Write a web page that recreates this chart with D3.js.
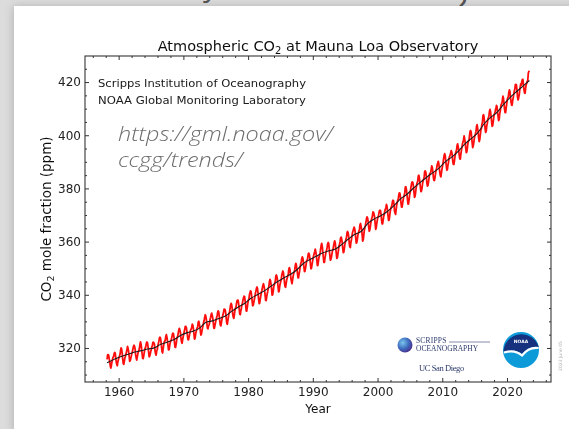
<!DOCTYPE html>
<html>
<head>
<meta charset="utf-8">
<script src="https://cdn.jsdelivr.net/npm/d3@7"></script>
<style>
  html, body { margin: 0; padding: 0; background: #dcdcdc; }
  svg { display: block; }
</style>
</head>
<body>
<svg id="chart" width="569" height="429"></svg>
<script>
// Monthly mean CO2 at Mauna Loa (ppm), one row per year, Jan..Dec
const firstYear = 1958;
const monthlyPpm = [
  [null, null, 315.70, 317.45, 317.51, 317.24, 315.86, 314.93, 313.20, 312.43, 313.33, 314.67],
  [315.58, 316.49, 316.65, 317.72, 318.29, 318.15, 316.54, 314.80, 313.84, 313.33, 314.81, 315.58],
  [316.43, 316.98, 317.58, 319.03, 320.04, 319.59, 318.18, 315.90, 314.17, 313.83, 315.00, 316.19],
  [316.90, 317.70, 318.54, 319.48, 320.58, 319.77, 318.57, 316.79, 314.99, 315.31, 316.10, 317.01],
  [317.94, 318.55, 319.68, 320.57, 321.02, 320.62, 319.61, 317.40, 316.25, 315.42, 316.69, 317.70],
  [318.74, 319.07, 319.86, 321.38, 322.25, 321.48, 319.74, 317.77, 316.21, 315.99, 317.07, 318.35],
  [319.57, 320.01, 320.74, 321.84, 322.26, 321.89, 320.44, 318.69, 316.70, 316.87, 317.68, 318.71],
  [319.44, 320.44, 320.89, 322.14, 322.17, 321.87, 321.21, 318.87, 317.81, 317.30, 318.87, 319.42],
  [320.62, 321.60, 322.39, 323.70, 324.08, 323.75, 322.38, 320.36, 318.64, 318.10, 319.78, 321.03],
  [322.33, 322.50, 323.04, 324.42, 325.00, 324.09, 322.54, 320.92, 319.25, 319.39, 320.73, 321.96],
  [322.57, 323.15, 323.89, 325.02, 325.57, 325.36, 324.14, 322.11, 320.33, 320.25, 321.32, 322.89],
  [324.00, 324.42, 325.63, 326.66, 327.38, 326.71, 325.88, 323.66, 322.38, 321.78, 322.85, 324.12],
  [325.06, 325.98, 326.93, 328.13, 328.08, 327.67, 326.34, 324.69, 323.10, 323.06, 324.01, 325.13],
  [326.17, 326.68, 327.17, 327.79, 328.93, 328.57, 327.36, 325.43, 323.36, 323.56, 324.80, 326.01],
  [326.77, 327.63, 327.75, 329.72, 330.07, 329.09, 328.04, 326.32, 324.84, 325.20, 326.50, 327.55],
  [328.55, 329.56, 330.30, 331.50, 332.48, 332.07, 330.87, 329.31, 327.51, 327.18, 328.16, 328.64],
  [329.35, 330.71, 331.48, 332.65, 333.09, 332.25, 331.18, 329.40, 327.43, 327.37, 328.46, 329.57],
  [330.40, 331.40, 332.04, 333.31, 333.97, 333.60, 331.90, 330.06, 328.56, 328.34, 329.49, 330.76],
  [331.75, 332.56, 333.50, 334.58, 334.57, 334.34, 333.05, 330.94, 329.30, 328.94, 330.31, 331.68],
  [332.93, 333.42, 334.70, 336.07, 336.75, 336.27, 334.92, 332.75, 331.59, 331.16, 332.40, 333.85],
  [334.97, 335.39, 336.64, 337.76, 338.01, 337.89, 336.54, 334.68, 332.76, 332.55, 333.92, 334.95],
  [336.23, 336.76, 337.96, 338.89, 339.47, 339.29, 337.73, 336.09, 333.92, 333.86, 335.29, 336.73],
  [338.01, 338.36, 340.07, 340.77, 341.47, 341.17, 339.56, 337.60, 335.88, 336.02, 337.10, 338.21],
  [339.24, 340.48, 341.38, 342.51, 342.91, 342.25, 340.49, 338.43, 336.69, 336.86, 338.36, 339.61],
  [340.75, 341.61, 342.70, 343.56, 344.13, 343.35, 342.06, 339.82, 337.97, 337.86, 339.26, 340.49],
  [341.37, 342.52, 343.10, 344.94, 345.75, 345.32, 343.99, 342.39, 339.86, 339.99, 341.16, 342.99],
  [343.70, 344.51, 345.28, 347.08, 347.43, 346.79, 345.40, 343.28, 341.07, 341.35, 342.98, 344.22],
  [344.97, 346.00, 347.43, 348.35, 348.93, 348.25, 346.56, 344.67, 343.09, 342.80, 344.24, 345.56],
  [346.29, 346.96, 347.86, 349.55, 350.21, 349.54, 347.94, 345.91, 344.86, 344.17, 345.66, 346.90],
  [348.02, 348.47, 349.42, 350.99, 351.84, 351.25, 349.52, 348.10, 346.44, 346.36, 347.81, 348.96],
  [350.43, 351.72, 352.22, 353.59, 354.22, 353.79, 352.39, 350.44, 348.72, 348.88, 350.07, 351.34],
  [352.76, 353.07, 353.68, 355.42, 355.67, 355.12, 353.90, 351.67, 349.80, 349.99, 351.30, 352.53],
  [353.66, 354.70, 355.39, 356.20, 357.16, 356.22, 354.82, 352.91, 350.96, 351.18, 352.83, 354.21],
  [354.72, 355.75, 357.16, 358.60, 359.34, 358.24, 356.17, 354.03, 352.16, 352.21, 353.75, 354.99],
  [355.98, 356.72, 357.81, 359.15, 359.66, 359.25, 357.02, 355.00, 353.01, 353.31, 354.16, 355.40],
  [356.70, 357.17, 358.38, 359.46, 360.28, 359.60, 357.57, 355.52, 353.69, 353.99, 355.34, 356.80],
  [358.37, 358.91, 359.97, 361.26, 361.69, 360.94, 359.55, 357.49, 355.84, 356.00, 357.58, 359.04],
  [359.96, 361.00, 361.64, 363.45, 363.79, 363.26, 361.90, 359.46, 358.06, 357.75, 359.56, 360.70],
  [362.05, 363.25, 364.03, 364.72, 365.41, 364.97, 363.65, 361.49, 359.46, 359.60, 360.76, 362.33],
  [363.18, 364.00, 364.57, 366.35, 366.79, 365.62, 364.47, 362.51, 360.19, 360.77, 362.43, 364.28],
  [365.32, 366.15, 367.31, 368.61, 369.30, 368.87, 367.64, 365.77, 363.90, 364.23, 365.46, 366.97],
  [368.15, 368.87, 369.59, 371.14, 371.00, 370.35, 369.27, 366.94, 364.63, 365.12, 366.67, 368.01],
  [369.14, 369.46, 370.52, 371.66, 371.82, 371.70, 370.12, 368.12, 366.62, 366.73, 368.29, 369.53],
  [370.28, 371.50, 372.12, 372.87, 374.02, 373.30, 371.62, 369.55, 367.96, 368.09, 369.68, 371.24],
  [372.43, 373.09, 373.52, 374.86, 375.55, 375.41, 374.02, 371.49, 370.71, 370.25, 372.08, 373.78],
  [374.68, 375.62, 376.11, 377.65, 378.35, 378.13, 376.62, 374.50, 372.99, 373.00, 374.35, 375.70],
  [376.79, 377.37, 378.41, 380.52, 380.63, 379.57, 377.79, 375.86, 374.06, 374.24, 375.86, 377.48],
  [378.47, 379.76, 381.14, 382.20, 382.47, 382.20, 380.78, 378.73, 376.66, 376.98, 378.29, 380.07],
  [381.36, 382.19, 382.65, 384.65, 384.94, 384.01, 382.15, 380.33, 378.81, 379.06, 380.17, 381.85],
  [382.90, 383.55, 384.42, 386.44, 386.57, 386.05, 384.49, 382.00, 380.90, 381.14, 382.38, 383.94],
  [385.44, 385.73, 385.97, 387.16, 388.50, 387.88, 386.38, 384.15, 383.07, 382.98, 384.11, 385.54],
  [386.92, 387.41, 388.77, 389.46, 390.18, 389.43, 387.74, 385.91, 384.77, 384.38, 385.99, 387.26],
  [388.45, 389.82, 391.08, 392.46, 393.05, 392.29, 390.24, 388.55, 386.83, 387.18, 388.68, 389.78],
  [391.33, 391.86, 392.60, 393.25, 394.19, 393.74, 392.51, 390.13, 389.08, 389.00, 390.28, 391.86],
  [393.12, 393.86, 394.40, 396.18, 396.74, 395.71, 394.36, 392.39, 391.11, 391.05, 392.98, 394.34],
  [395.55, 396.80, 397.43, 398.41, 399.78, 398.60, 397.32, 395.20, 393.45, 393.70, 395.16, 396.84],
  [397.85, 398.01, 399.77, 401.38, 401.78, 401.25, 399.10, 397.03, 395.38, 396.03, 397.28, 398.91],
  [399.98, 400.28, 401.54, 403.28, 403.96, 402.80, 401.31, 398.93, 397.63, 398.29, 400.16, 401.85],
  [402.56, 404.12, 404.87, 407.45, 407.72, 406.83, 404.41, 402.27, 401.05, 401.59, 403.55, 404.45],
  [406.17, 406.46, 407.22, 409.04, 409.69, 408.88, 407.12, 405.13, 403.37, 403.63, 405.12, 406.81],
  [407.96, 408.32, 409.41, 410.24, 411.24, 410.79, 408.71, 406.99, 405.51, 405.95, 408.02, 409.07],
  [410.83, 411.75, 411.97, 413.32, 414.66, 413.92, 411.77, 409.95, 408.54, 408.53, 410.27, 411.76],
  [413.40, 414.11, 414.51, 416.21, 417.07, 416.39, 414.38, 412.55, 411.29, 411.28, 412.89, 414.02],
  [415.24, 416.45, 417.30, 419.03, 419.13, 418.94, 416.96, 414.47, 413.30, 413.93, 415.01, 416.71],
  [418.19, 419.28, 418.81, 420.23, 420.99, 420.99, 418.90, 417.19, 415.95, 415.78, 417.51, 418.95],
  [419.47, 420.33, 420.51, 423.36, 424.00, 423.68, null, null, null, null, null, null]
];

// Seasonally corrected trend (decimal year, ppm)
const trendYear = [1958.21, 1959.5, 1960.5, 1961.5, 1962.5, 1963.5, 1964.5, 1965.5, 1966.5, 1967.5,
  1968.5, 1969.5, 1970.5, 1971.5, 1972.5, 1973.5, 1974.5, 1975.5, 1976.5, 1977.5, 1978.5, 1979.5,
  1980.5, 1981.5, 1982.5, 1983.5, 1984.5, 1985.5, 1986.5, 1987.5, 1988.5, 1989.5, 1990.5, 1991.5,
  1992.5, 1993.5, 1994.5, 1995.5, 1996.5, 1997.5, 1998.5, 1999.5, 2000.5, 2001.5, 2002.5, 2003.5,
  2004.5, 2005.5, 2006.5, 2007.5, 2008.5, 2009.5, 2010.5, 2011.5, 2012.5, 2013.5, 2014.5, 2015.5,
  2016.5, 2017.5, 2018.5, 2019.5, 2020.5, 2021.5, 2022.5, 2023.46];
const trendPpm = [314.43, 315.98, 316.91, 317.64, 318.45, 318.99, 319.62, 320.04, 321.37, 322.18,
  323.05, 324.62, 325.68, 326.32, 327.46, 329.68, 330.19, 331.12, 332.03, 333.84, 335.41, 336.84,
  338.76, 340.12, 341.48, 343.15, 344.87, 346.35, 347.61, 349.31, 351.69, 353.20, 354.45, 355.70,
  356.54, 357.21, 358.96, 360.97, 362.74, 363.88, 366.84, 368.54, 369.71, 371.32, 373.45, 375.98,
  377.70, 379.98, 382.09, 384.02, 385.83, 387.64, 390.10, 391.85, 394.06, 396.74, 398.81, 401.01,
  404.41, 406.76, 408.72, 411.66, 414.24, 416.45, 418.56, 420.60];

const xMajorTicks = [1960, 1970, 1980, 1990, 2000, 2010, 2020];
const xMinorTicks = [1956, 1958, 1962, 1964, 1966, 1968, 1972, 1974, 1976, 1978, 1982, 1984, 1986,
  1988, 1992, 1994, 1996, 1998, 2002, 2004, 2006, 2008, 2012, 2014, 2016, 2018, 2022, 2024, 2026];
const yMajorTicks = [320, 340, 360, 380, 400, 420];
const yMinorTicks = [310, 315, 325, 330, 335, 345, 350, 355, 365, 370, 375, 385, 390, 395,
  405, 410, 415, 425];

const creditLines = ["Scripps Institution of Oceanography", "NOAA Global Monitoring Laboratory"];
const urlLines = ["https://gml.noaa.gov/", "ccgg/trends/"];

// ---------------------------------------------------------------
(function draw() {
const svg = d3.select("#chart");
const W = 569, H = 429;
const sans = "'DejaVu Sans', sans-serif";

const defs = svg.append("defs");
const shadow = defs.append("filter").attr("id", "cardShadow")
  .attr("x", "-10%").attr("y", "-10%").attr("width", "120%").attr("height", "120%");
shadow.append("feDropShadow").attr("dx", -1).attr("dy", 0)
  .attr("stdDeviation", 4).attr("flood-color", "#000").attr("flood-opacity", 0.18);
const soft = defs.append("filter").attr("id", "soft");
soft.append("feGaussianBlur").attr("stdDeviation", 0.4);
const sphere = defs.append("radialGradient").attr("id", "sphere")
  .attr("cx", "35%").attr("cy", "35%").attr("r", "70%");
sphere.append("stop").attr("offset", "0%").attr("stop-color", "#7cc6ee");
sphere.append("stop").attr("offset", "55%").attr("stop-color", "#3f6fc0");
sphere.append("stop").attr("offset", "100%").attr("stop-color", "#4a2f8e");

// page background and the heading glyphs peeking above the card
svg.append("rect").attr("width", W).attr("height", H).attr("fill", "#dcdcdc");
svg.append("text").attr("x", 203).attr("y", -4).attr("font-family", "'Open Sans', sans-serif")
  .attr("font-size", 30).attr("fill", "#555").text("y");
svg.append("text").attr("x", 454).attr("y", 12).attr("font-family", "'Open Sans', sans-serif")
  .attr("font-size", 24).attr("font-weight", 600).attr("fill", "#555").text("2");

// white card
svg.append("rect").attr("x", 14).attr("y", 6).attr("width", W - 14 + 10).attr("height", H)
  .attr("fill", "#fff").attr("filter", "url(#cardShadow)");

const g = svg.append("g").attr("filter", "url(#soft)");

const pL = 85, pR = 551, pT = 56, pB = 382;
const x = d3.scaleLinear().domain([1954.8, 2026.8]).range([pL, pR]);
const y = d3.scaleLinear().domain([307.2, 429.8]).range([pB, pT]);

const monthly = [];
monthlyPpm.forEach((row, i) => row.forEach((v, m) => {
  if (v !== null) monthly.push({ t: firstYear + i + (m + 0.5) / 12, v });
}));
const trend = trendYear.map((t, i) => ({ t, v: trendPpm[i] }));

// axes: inward ticks on all four sides
const axisColor = "#333";
function styleAxis(sel) {
  sel.select(".domain").remove();
  sel.selectAll(".tick line").attr("stroke", axisColor).attr("stroke-width", 1);
  sel.selectAll(".tick text").attr("font-family", sans).attr("font-size", 12).attr("fill", "#222");
}
const fmt = d3.format("d");
g.append("g").attr("transform", `translate(0,${pB})`)
  .call(d3.axisBottom(x).tickValues(xMajorTicks).tickFormat(fmt).tickSize(-4).tickPadding(5)).call(styleAxis);
g.append("g").attr("transform", `translate(0,${pB})`)
  .call(d3.axisBottom(x).tickValues(xMinorTicks).tickFormat("").tickSize(-2)).call(styleAxis);
g.append("g").attr("transform", `translate(0,${pT})`)
  .call(d3.axisTop(x).tickValues(xMajorTicks).tickFormat("").tickSize(-4)).call(styleAxis);
g.append("g").attr("transform", `translate(0,${pT})`)
  .call(d3.axisTop(x).tickValues(xMinorTicks).tickFormat("").tickSize(-2)).call(styleAxis);
g.append("g").attr("transform", `translate(${pL},0)`)
  .call(d3.axisLeft(y).tickValues(yMajorTicks).tickFormat(fmt).tickSize(-4).tickPadding(4)).call(styleAxis);
g.append("g").attr("transform", `translate(${pL},0)`)
  .call(d3.axisLeft(y).tickValues(yMinorTicks).tickFormat("").tickSize(-2)).call(styleAxis);
g.append("g").attr("transform", `translate(${pR},0)`)
  .call(d3.axisRight(y).tickValues(yMajorTicks).tickFormat("").tickSize(-4)).call(styleAxis);
g.append("g").attr("transform", `translate(${pR},0)`)
  .call(d3.axisRight(y).tickValues(yMinorTicks).tickFormat("").tickSize(-2)).call(styleAxis);

// data lines
const line = d3.line().x(d => x(d.t)).y(d => y(d.v));
g.append("path").datum(monthly).attr("d", line)
  .attr("fill", "none").attr("stroke", "#ff1010").attr("stroke-width", 1.8).attr("stroke-linejoin", "round");
g.append("path").datum(trend).attr("d", line.curve(d3.curveMonotoneX))
  .attr("fill", "none").attr("stroke", "#1a1a1a").attr("stroke-width", 1.1);

// frame
g.append("rect").attr("x", pL).attr("y", pT).attr("width", pR - pL).attr("height", pB - pT)
  .attr("fill", "none").attr("stroke", axisColor).attr("stroke-width", 1.1);

// title and axis labels
const title = g.append("text").attr("x", (pL + pR) / 2).attr("y", 51).attr("text-anchor", "middle")
  .attr("font-family", sans).attr("font-size", 14.5).attr("fill", "#111");
title.append("tspan").text("Atmospheric CO");
title.append("tspan").attr("font-size", 10).attr("dy", 3).text("2");
title.append("tspan").attr("dy", -3).text(" at Mauna Loa Observatory");

g.append("text").attr("x", (pL + pR) / 2).attr("y", 413).attr("text-anchor", "middle")
  .attr("font-family", sans).attr("font-size", 12).attr("fill", "#111").text("Year");

const yl = g.append("text").attr("transform", `translate(51,${(pT + pB) / 2}) rotate(-90)`)
  .attr("text-anchor", "middle").attr("font-family", sans)
  .attr("font-size", 13.5).attr("fill", "#111");
yl.append("tspan").text("CO");
yl.append("tspan").attr("font-size", 9.5).attr("dy", 3).text("2");
yl.append("tspan").attr("dy", -3).text(" mole fraction (ppm)");

// credits
creditLines.forEach((s, i) => {
  g.append("text").attr("x", 98).attr("y", 87 + i * 16.5)
    .attr("font-family", sans).attr("font-size", 10.2)
    .attr("textLength", 208).attr("lengthAdjust", "spacingAndGlyphs")
    .attr("fill", "#1a1a1a").text(s);
});

// Scripps / UC San Diego logotype
const sx = 405, sy = 345;
g.append("circle").attr("cx", sx).attr("cy", sy).attr("r", 7.5).attr("fill", "url(#sphere)");
g.append("text").attr("x", 416).attr("y", 343).attr("font-family", "'Liberation Serif', serif")
  .attr("font-size", 7.5).attr("letter-spacing", 0.2).attr("fill", "#2b3a6b").text("SCRIPPS");
g.append("line").attr("x1", 449).attr("x2", 490).attr("y1", 342).attr("y2", 342)
  .attr("stroke", "#2b3a6b").attr("stroke-width", 0.6);
g.append("text").attr("x", 416).attr("y", 350.5).attr("font-family", "'Liberation Serif', serif")
  .attr("font-size", 7.5).attr("letter-spacing", 0).attr("fill", "#2b3a6b").text("OCEANOGRAPHY");
g.append("text").attr("x", 419).attr("y", 371).attr("font-family", "'Liberation Serif', serif")
  .attr("font-size", 8.5).attr("letter-spacing", -0.4).attr("fill", "#2b3a6b").text("UC San Diego");

// NOAA emblem
const nx = 521, ny = 350, nr = 18;
g.append("circle").attr("cx", nx).attr("cy", ny).attr("r", nr).attr("fill", "#0d9ad8");
g.append("path")
  .attr("d", `M${nx - nr + 0.5},${ny + 2} A${nr},${nr} 0 0 1 ${nx + nr - 0.3},${ny - 3}
    Q${nx + 8},${ny - 5} ${nx + 1},${ny + 4} Q${nx - 6},${ny - 2} ${nx - nr + 0.5},${ny + 2} Z`)
  .attr("fill", "#12307e");
g.append("path")
  .attr("d", `M${nx - nr + 1},${ny + 2.5} Q${nx - 6},${ny - 1} ${nx + 1},${ny + 5.5}
    Q${nx + 8},${ny - 3.5} ${nx + nr - 0.5},${ny - 2}`)
  .attr("fill", "none").attr("stroke", "#fff").attr("stroke-width", 2.2);
g.append("text").attr("x", nx).attr("y", ny - 7).attr("text-anchor", "middle")
  .attr("font-family", sans).attr("font-size", 4.5).attr("font-weight", "bold")
  .attr("fill", "#fff").text("NOAA");

// small date stamp on the right margin
g.append("text").attr("transform", "translate(562,356) rotate(-90)").attr("text-anchor", "middle")
  .attr("font-family", sans).attr("font-size", 4.5).attr("fill", "#b5b5b5")
  .text("2023 June 05");

// overlaid link text, two lines in one block
const url = svg.append("text").attr("transform", "translate(118,141) scale(1.2,1)")
  .attr("font-family", "'Open Sans', sans-serif").attr("font-style", "italic")
  .attr("font-weight", 300).attr("font-size", 19.5).attr("fill", "#6c6c6c");
urlLines.forEach((s, i) => {
  url.append("tspan").attr("x", 0).attr("y", i * 26.5).text(s);
});
})();
</script>
</body>
</html>
